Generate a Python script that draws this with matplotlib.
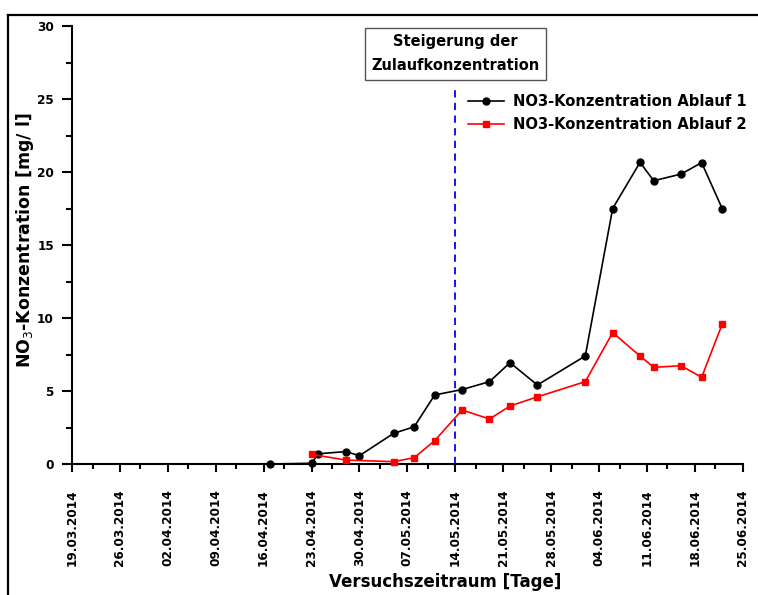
import datetime as dt
import matplotlib
matplotlib.use("Agg")
import matplotlib.pyplot as plt
import matplotlib.dates as mdates
from matplotlib.lines import Line2D

start = dt.date(2014, 3, 19)

# day offsets from 19.03.2014
days_1 = [29, 35, 36, 40, 42, 47, 50, 53, 57, 61, 64, 68, 75, 79, 83, 85, 89, 92, 95]
no3_1 = [0.0, 0.05, 0.7, 0.85, 0.57, 2.1, 2.55, 4.73, 5.1, 5.64, 6.94, 5.41, 7.4,
         17.5, 20.66, 19.4, 19.86, 20.64, 17.5]

days_2 = [35, 40, 47, 50, 53, 57, 61, 64, 68, 75, 79, 83, 85, 89, 92, 95]
no3_2 = [0.66, 0.27, 0.16, 0.43, 1.6, 3.7, 3.08, 3.97, 4.6, 5.64, 9.0, 7.4, 6.62,
         6.73, 5.94, 9.57]

dates_1 = [start + dt.timedelta(days=d) for d in days_1]
dates_2 = [start + dt.timedelta(days=d) for d in days_2]
marker_date = dt.date(2014, 5, 14)

fig = plt.figure(figsize=(7.58, 5.95), dpi=100)
ax = fig.add_axes([72 / 758, 1 - 464 / 595, (742.7 - 72) / 758, (464 - 26) / 595])

ax.plot(dates_1, no3_1, color='black', marker='o', markersize=5, lw=1.2,
        label='NO3-Konzentration Ablauf 1', clip_on=False, zorder=3)
ax.plot(dates_2, no3_2, color='red', marker='s', markersize=4.8, lw=1.2,
        label='NO3-Konzentration Ablauf 2', clip_on=False, zorder=3)

ax.plot([marker_date, marker_date], [0, 25.8], color='blue', ls=(0, (4, 3)), lw=1.3)
ax.text(marker_date, 28.1, 'Steigerung der\nZulaufkonzentration', ha='center', va='center',
        fontsize=10.5, fontweight='bold', linespacing=1.75,
        bbox=dict(boxstyle='square,pad=0.45', fc='white', ec='#555555', lw=1))

ax.set_xlim(start, dt.date(2014, 6, 25))
ax.set_ylim(0, 30)
ax.set_xticks([start + dt.timedelta(days=7 * i) for i in range(15)])
ax.set_xticks([start + dt.timedelta(days=3.5 + 7 * i) for i in range(14)], minor=True)
ax.xaxis.set_major_formatter(mdates.DateFormatter('%d.%m.%Y'))
ax.set_yticks(range(0, 31, 5))
ax.set_yticks([2.5 + 5 * i for i in range(6)], minor=True)

for s in ['top', 'right']:
    ax.spines[s].set_visible(False)
for s in ['left', 'bottom']:
    ax.spines[s].set_linewidth(1.5)

ax.tick_params(axis='x', which='major', direction='out', length=6, width=1.5,
               labelsize=8.7, rotation=90, pad=12)
ax.tick_params(axis='x', which='minor', direction='out', length=3.5, width=1.5)
ax.tick_params(axis='y', which='major', direction='out', length=7, width=1.5,
               labelsize=8.7, pad=6)
ax.tick_params(axis='y', which='minor', direction='out', length=4, width=1.5)
for lab in ax.get_xticklabels() + ax.get_yticklabels():
    lab.set_fontweight('bold')

fig.text(25 / 758, 1 - 240 / 595, 'NO$_3$-Konzentration [mg/ l]', rotation=90,
         ha='center', va='center', fontsize=12.5, fontweight='bold')
fig.text(445 / 758, 1 - 582 / 595, 'Versuchszeitraum [Tage]', ha='center', va='center',
         fontsize=12, fontweight='bold')

leg = ax.legend(loc='upper right', bbox_to_anchor=(1.025, 0.875), frameon=False,
                prop={'weight': 'bold', 'size': 10.6}, handlelength=2.4,
                handletextpad=0.6, labelspacing=0.55)

# outer frame (left and top edges)
fig.add_artist(Line2D([8 / 758, 8 / 758], [0, 1 - 15 / 595], color='black', lw=1.6))
fig.add_artist(Line2D([8 / 758, 1], [1 - 15 / 595, 1 - 15 / 595], color='black', lw=1.6))

fig.savefig('out.png', dpi=100)
